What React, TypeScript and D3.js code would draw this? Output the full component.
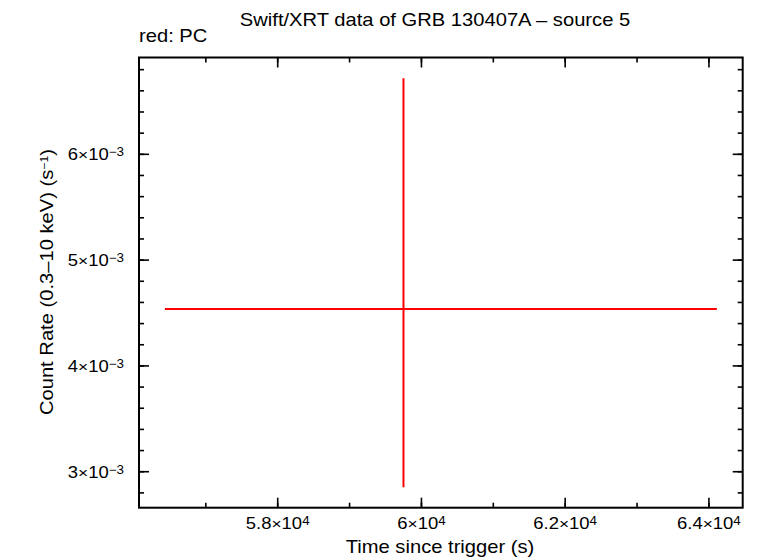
import React from "react";
import * as d3 from "d3";

// chart data
const timeCenter = [59750];
const timeLow = [56430];
const timeHigh = [64110];
const rate = [4.538e-3];
const rateLow = [2.853e-3];
const rateHigh = [6.718e-3];

const xMajor = [58000, 60000, 62000, 64000];
const xMajorLabels = [["5.8", "4"], ["6", "4"], ["6.2", "4"], ["6.4", "4"]];
const xMinor = d3.range(57000, 64001, 1000);
const yMajor = [3e-3, 4e-3, 5e-3, 6e-3];
const yMajorLabels = [["3", "−3"], ["4", "−3"], ["5", "−3"], ["6", "−3"]];
const yMinor = d3.range(2.8e-3, 6.81e-3, 0.2e-3);

const W = 758;
const H = 558;
const left = 139;
const right = 742.7;
const top = 57.5;
const bottom = 507.7;
const font = "'Liberation Sans', Arial, Helvetica, sans-serif";
const sx = 1.12; // the original font runs wider than Arial

const Txt = ({x, y, rot = 0, children, ...rest}: any) => (
    <text transform={`translate(${x},${y}) rotate(${rot}) scale(${sx},1)`} {...rest}>{children}</text>
);

const App = () => {
    const x = d3.scaleLinear().domain([56070, 64470]).range([left, right]);
    const y = d3.scaleLinear().domain([2.66e-3, 6.915e-3]).range([bottom, top]);

    return (
        <svg width={W} height={H} style={{position: "absolute", left: 0, top: 0}} fontFamily={font}>
            <rect width={W} height={H} fill="#fff"/>
            <Txt x={435} y={26} fontSize={18} textAnchor="middle">Swift/XRT data of GRB 130407A – source 5</Txt>
            <Txt x={139} y={42} fontSize={18}>red: PC</Txt>

            {/* ticks */}
            <g stroke="#000" strokeWidth={1.6}>
                {xMinor.map(v => (
                    <g key={"xm" + v}>
                        <line x1={x(v)} x2={x(v)} y1={bottom} y2={bottom - 5}/>
                        <line x1={x(v)} x2={x(v)} y1={top} y2={top + 5}/>
                    </g>
                ))}
                {xMajor.map(v => (
                    <g key={"xM" + v}>
                        <line x1={x(v)} x2={x(v)} y1={bottom} y2={bottom - 10}/>
                        <line x1={x(v)} x2={x(v)} y1={top} y2={top + 10}/>
                    </g>
                ))}
                {yMinor.map(v => (
                    <g key={"ym" + v}>
                        <line x1={left} x2={left + 5} y1={y(v)} y2={y(v)}/>
                        <line x1={right} x2={right - 5} y1={y(v)} y2={y(v)}/>
                    </g>
                ))}
                {yMajor.map(v => (
                    <g key={"yM" + v}>
                        <line x1={left} x2={left + 10} y1={y(v)} y2={y(v)}/>
                        <line x1={right} x2={right - 10} y1={y(v)} y2={y(v)}/>
                    </g>
                ))}
            </g>
            <rect x={left} y={top} width={right - left} height={bottom - top} fill="none" stroke="#000" strokeWidth={2}/>

            {/* tick labels */}
            {xMajor.map((v, i) => (
                <Txt key={"xl" + v} x={x(v)} y={528.5} fontSize={16.5} textAnchor="middle">
                    {xMajorLabels[i][0]}<tspan fontSize={15.5}>×</tspan>10<tspan dy={-4} fontSize={12}>{xMajorLabels[i][1]}</tspan>
                </Txt>
            ))}
            {yMajor.map((v, i) => (
                <Txt key={"yl" + v} x={124} y={y(v) + 6} fontSize={16.5} textAnchor="end">
                    {yMajorLabels[i][0]}<tspan fontSize={15.5}>×</tspan>10<tspan dy={-4} fontSize={12}>{yMajorLabels[i][1]}</tspan>
                </Txt>
            ))}

            {/* axis titles */}
            <Txt x={440} y={553} fontSize={18} textAnchor="middle">Time since trigger (s)</Txt>
            <Txt x={53} y={282} rot={-90} fontSize={18} textAnchor="middle">
                Count Rate (0.3–10 keV) (s<tspan dy={-5} fontSize={11}>−1</tspan><tspan dy={5}>)</tspan>
            </Txt>

            {/* data */}
            <g stroke="#ff0000" strokeWidth={2}>
                {timeCenter.map((t, i) => (
                    <g key={"d" + i}>
                        <line x1={x(timeLow[i])} x2={x(timeHigh[i])} y1={y(rate[i])} y2={y(rate[i])}/>
                        <line x1={x(t)} x2={x(t)} y1={y(rateLow[i])} y2={y(rateHigh[i])}/>
                    </g>
                ))}
            </g>
        </svg>
    );
};

export default App;
